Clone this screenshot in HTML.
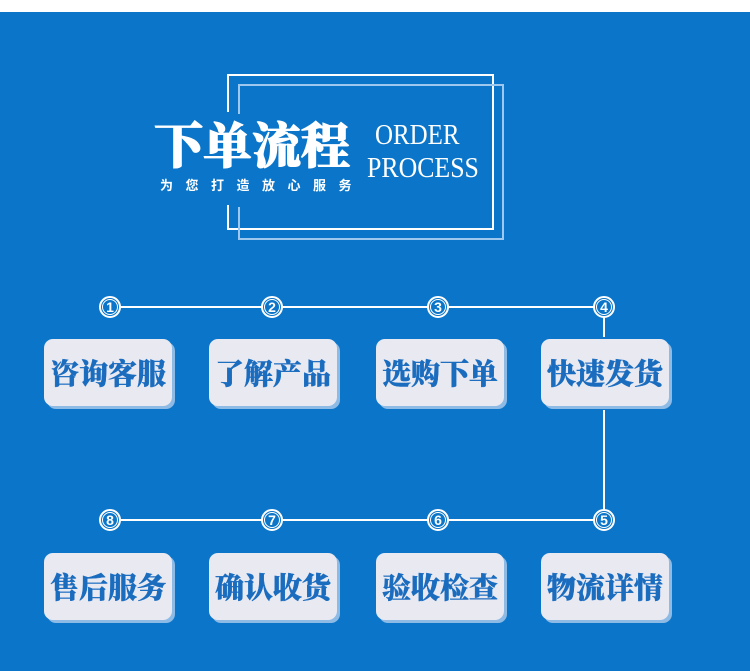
<!DOCTYPE html>
<html><head><meta charset="utf-8"><style>
body{margin:0;width:750px;height:671px;background:#0b76c9;position:relative;overflow:hidden;font-family:"Liberation Serif","Noto Serif CJK SC",serif}
.top{position:absolute;left:0;top:0;width:750px;height:12px;background:#fff}
.ln{position:absolute;background:#fff}
.ln2{position:absolute;background:#9fc8ee}
.box{position:absolute;width:128px;height:67px;background:#e9e9f1;border-radius:9px;box-shadow:3px 3px 0 #8dbbe6;color:#1a6cbf;font-weight:900;font-size:29px;text-align:center;line-height:67px;letter-spacing:0px;font-family:"Noto Serif CJK SC",serif;-webkit-text-stroke:0.4px #1a6cbf}
.c{position:absolute;width:18px;height:18px;border:2px solid #fff;border-radius:50%;background:#0b76c9;color:#fff;font-family:"Liberation Sans",sans-serif;font-weight:bold;font-size:14px;line-height:18px;text-align:center;margin:-11px 0 0 -11px}
.c::before{content:"";position:absolute;left:1px;top:1px;width:14px;height:14px;border:1px solid #fff;border-radius:50%}
</style></head><body>
<div class="top"></div>
<div class="ln" style="left:227px;top:74px;width:267px;height:2px"></div>
<div class="ln" style="left:492px;top:74px;width:2px;height:156px"></div>
<div class="ln" style="left:227px;top:228px;width:267px;height:2px"></div>
<div class="ln" style="left:227px;top:74px;width:2px;height:38px"></div>
<div class="ln" style="left:227px;top:205px;width:2px;height:25px"></div>
<div class="ln2" style="left:238px;top:84px;width:266px;height:2px"></div>
<div class="ln2" style="left:502px;top:84px;width:2px;height:156px"></div>
<div class="ln2" style="left:238px;top:238px;width:266px;height:2px"></div>
<div class="ln2" style="left:238px;top:84px;width:2px;height:30px"></div>
<div class="ln2" style="left:238px;top:207px;width:2px;height:33px"></div>
<div style="position:absolute;left:154px;top:115px;color:#fff;font-weight:900;font-size:49px;line-height:56px;white-space:nowrap;font-family:'Noto Serif CJK SC',serif;-webkit-text-stroke:1px #fff">下单流程</div>
<div style="position:absolute;left:160px;top:177px;color:#fff;font-weight:bold;font-size:13px;line-height:16px;letter-spacing:12.5px;white-space:nowrap;font-family:'Noto Sans CJK SC',sans-serif">为您打造放心服务</div>
<div style="position:absolute;left:375px;top:119px;color:#fff;font-size:29px;line-height:32px;transform:scaleX(.86);transform-origin:left">ORDER</div>
<div style="position:absolute;left:367px;top:152px;color:#fff;font-size:29px;line-height:32px;transform:scaleX(.89);transform-origin:left">PROCESS</div>
<div class="ln" style="left:110px;top:306px;width:494px;height:2px"></div>
<div class="ln" style="left:110px;top:519px;width:494px;height:2px"></div>
<div class="ln" style="left:603px;top:307px;width:2px;height:30px"></div>
<div class="ln" style="left:603px;top:410px;width:2px;height:110px"></div>
<div class="c" style="left:110px;top:307px">1</div>
<div class="c" style="left:272px;top:307px">2</div>
<div class="c" style="left:438px;top:307px">3</div>
<div class="c" style="left:604px;top:307px">4</div>
<div class="c" style="left:110px;top:520px">8</div>
<div class="c" style="left:272px;top:520px">7</div>
<div class="c" style="left:438px;top:520px">6</div>
<div class="c" style="left:604px;top:520px">5</div>
<div class="box" style="left:44px;top:339px">咨询客服</div>
<div class="box" style="left:209px;top:339px">了解产品</div>
<div class="box" style="left:376px;top:339px">选购下单</div>
<div class="box" style="left:541px;top:339px">快速发货</div>
<div class="box" style="left:44px;top:553px">售后服务</div>
<div class="box" style="left:209px;top:553px">确认收货</div>
<div class="box" style="left:376px;top:553px">验收检查</div>
<div class="box" style="left:541px;top:553px">物流详情</div>
</body></html>
